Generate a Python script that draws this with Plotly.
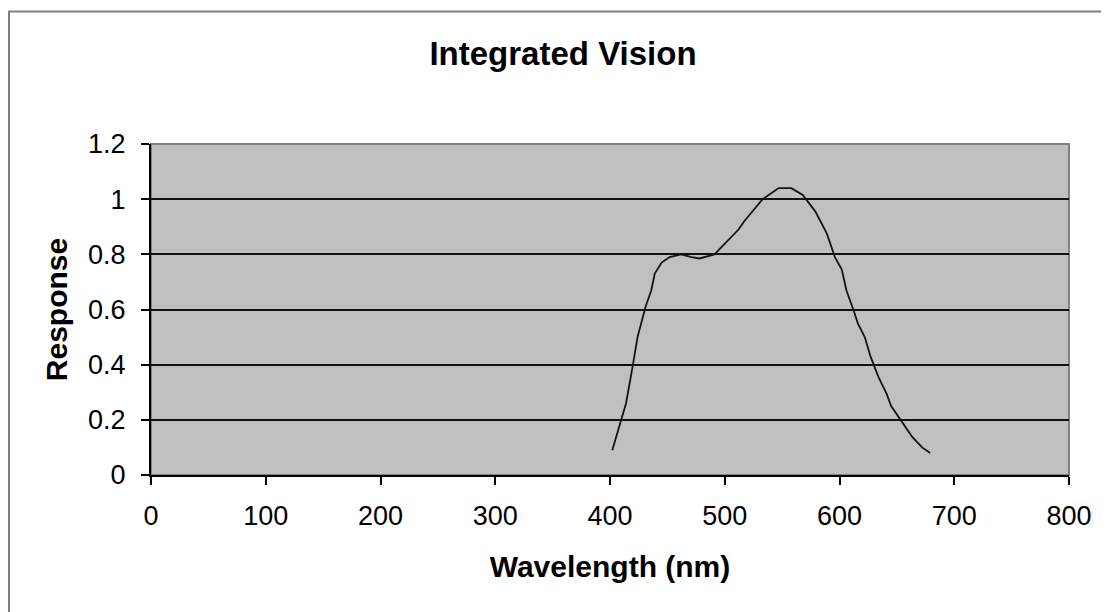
import plotly.graph_objects as go

# Data
wavelength = [402, 410, 414, 420, 424, 431, 436, 439, 445, 452, 462, 471, 478, 491,
              512, 517, 533, 547, 558, 568, 579, 589, 596, 602, 606, 612, 616, 622,
              627, 634, 641, 645, 653, 663, 672, 679]
response = [0.09, 0.20, 0.26, 0.40, 0.50, 0.61, 0.67, 0.73, 0.77, 0.79, 0.80, 0.79,
            0.785, 0.80, 0.89, 0.92, 1.00, 1.04, 1.04, 1.015, 0.955, 0.875, 0.79,
            0.745, 0.67, 0.60, 0.55, 0.50, 0.43, 0.355, 0.295, 0.25, 0.20, 0.14,
            0.10, 0.08]
x_ticks = [0, 100, 200, 300, 400, 500, 600, 700, 800]
y_ticks = [0, 0.2, 0.4, 0.6, 0.8, 1, 1.2]
y_tick_labels = ["0", "0.2", "0.4", "0.6", "0.8", "1", "1.2"]

FONT = "Liberation Sans, Arial, sans-serif"
OFF = 8  # default page body margin
W, H = 1109, 612
L, T = 151 - OFF, 144 - OFF
R = W - (1069 - OFF)
B = H - (475 - OFF)
pw, ph = W - L - R, H - T - B

fig = go.Figure()
fig.add_trace(go.Scatter(x=wavelength, y=response, mode="lines",
                         line=dict(color="#141414", width=1.8),
                         showlegend=False, hoverinfo="x+y"))

# gray border around plot area
fig.add_shape(type="rect", xref="paper", yref="paper", x0=0, x1=1, y0=0, y1=1,
              line=dict(color="#808080", width=2), layer="below")
# outer chart border (extends past the window on right and bottom)
fig.add_shape(type="rect", xref="paper", yref="paper",
              x0=(9 - OFF - L) / pw, x1=(W + 10 - L) / pw,
              y0=(T + ph - (H + 10)) / ph, y1=(T + ph - (11.5 - OFF)) / ph,
              line=dict(color="#808080", width=2), layer="below")

fig.update_layout(
    width=W, height=H,
    margin=dict(l=L, r=R, t=T, b=B),
    paper_bgcolor="white",
    plot_bgcolor="#c0c0c0",
    font=dict(family=FONT, size=27, color="#000"),
    title=dict(text="<b>Integrated Vision</b>", xref="container", yref="container",
               x=(563 - OFF) / W, y=1 - (53 - OFF) / H, xanchor="center", yanchor="middle",
               font=dict(family=FONT, size=33, color="#000")),
    xaxis=dict(range=[0, 800], tickvals=x_ticks, showgrid=False, zeroline=False,
               showline=True, linecolor="#000", linewidth=2,
               ticks="outside", ticklen=8, tickwidth=2, tickcolor="#000",
               ticklabelstandoff=8,
               title=dict(text="<b>Wavelength (nm)</b>", font=dict(size=30), standoff=26)),
    yaxis=dict(range=[0, 1.2], tickvals=y_ticks, ticktext=y_tick_labels,
               showgrid=True, gridcolor="#111", gridwidth=2, zeroline=False,
               showline=True, linecolor="#000", linewidth=2,
               ticks="outside", ticklen=8, tickwidth=2, tickcolor="#000",
               ticklabelstandoff=10,
               title=dict(text="<b>Response</b>", font=dict(size=30), standoff=12)),
)

fig.write_html("out.html")
